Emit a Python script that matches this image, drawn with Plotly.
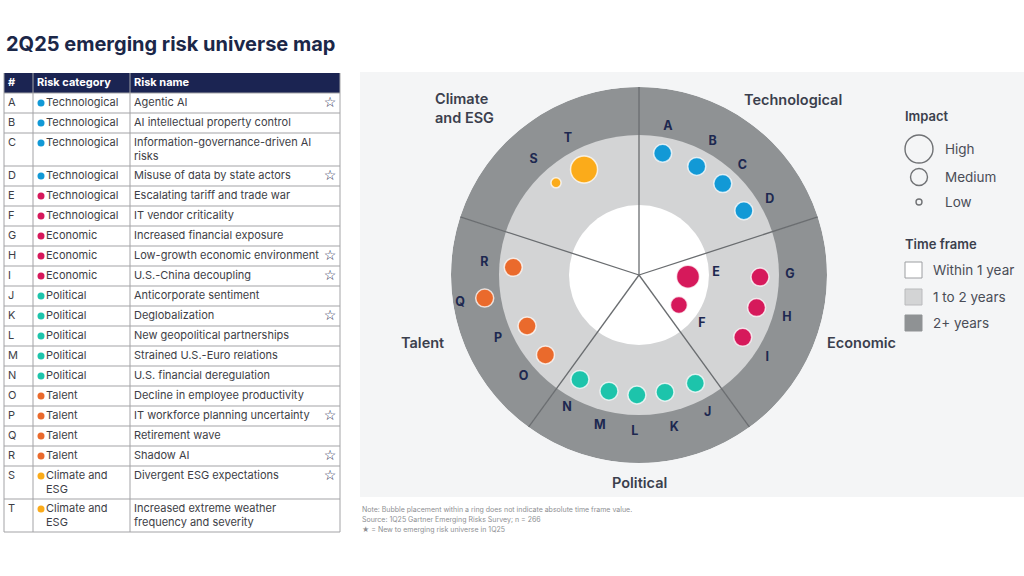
import plotly.graph_objects as go

W, H = 1024, 576

# ---- table data ----
ids = list("ABCDEFGHIJKLMNOPQRST")
risk_category = (["Technological"] * 6 + ["Economic"] * 3 + ["Political"] * 5
                 + ["Talent"] * 4 + ["Climate and<br>ESG"] * 2)
risk_name = [
    "Agentic AI",
    "AI intellectual property control",
    "Information-governance-driven AI<br>risks",
    "Misuse of data by state actors",
    "Escalating tariff and trade war",
    "IT vendor criticality",
    "Increased financial exposure",
    "Low-growth economic environment",
    "U.S.-China decoupling",
    "Anticorporate sentiment",
    "Deglobalization",
    "New geopolitical partnerships",
    "Strained U.S.-Euro relations",
    "U.S. financial deregulation",
    "Decline in employee productivity",
    "IT workforce planning uncertainty",
    "Retirement wave",
    "Shadow AI",
    "Divergent ESG expectations",
    "Increased extreme weather<br>frequency and severity",
]
is_new = [1, 0, 0, 1, 0, 0, 0, 1, 1, 0, 1, 0, 0, 0, 0, 1, 0, 1, 1, 0]
group = ["tech"] * 4 + ["econ"] * 5 + ["pol"] * 5 + ["tal"] * 4 + ["clim"] * 2

group_color = {"tech": "#1299d6", "econ": "#d6195b", "pol": "#1dc4ab",
               "tal": "#ea6a2c", "clim": "#fbab1a"}

# ---- map data (radius in px of a 188px disc, angle in degrees) ----
bubble_r = [124, 123, 124, 123, 49, 50, 121, 122, 121, 122,
            120, 120, 120, 120, 123, 123, 156, 126, 124, 119]
bubble_theta = [79, 62, 47.5, 31.5, -2, -37, -1, -15.5, -31, -62.5,
                -77.5, -91, -104.5, -119.5, -139.5, -155.5, -171.5, 176.5, 132, 117.5]
bubble_size = [18, 18, 18, 18, 23, 17, 18, 18, 18, 18,
               18, 18, 18, 18, 18, 18, 18, 18, 10, 27]
label_r = [151, 152, 150, 151, 77, 80, 151, 154, 153, 154,
           157, 157, 156, 151, 154, 155, 181, 155, 156, 154]
label_theta = [79, 61, 46.5, 30, 1.5, -38, 0, -16, -33, -63.5,
               -77, -91.5, -104.5, -118.5, -138.5, -155.5, -171, 175.5, 132.5, 117.5]

sector_centers = [54, -18, -90, -162, 126]
spoke_angles = [90, 18, -54, -126, 162]
ring_outer = [188, 140, 70]
ring_colors = ["#8f9294", "#d3d4d5", "#ffffff"]

notes = [
    "Note: Bubble placement within a ring does not indicate absolute time frame value.",
    "Source: 1Q25 Gartner Emerging Risks Survey; n = 266",
    "★ = New to emerging risk universe in 1Q25",
]


def px(x):
    return x / W


def py(y):
    return 1 - y / H


FONT = "Inter"

fig = go.Figure()

# ---------------- table (axes in pixel units) ----------------
n_lines = [max(c.count("<br>"), n.count("<br>")) + 1 for c, n in zip(risk_category, risk_name)]
row_h = [20 + 13 * (k - 1) for k in n_lines]
tops = []
y = 93
for h in row_h:
    tops.append(y)
    y += h
table_bottom = y

shapes = []
# map panel background
shapes.append(dict(type="rect", xref="paper", yref="paper", x0=px(360), x1=1.0,
                   y0=py(497), y1=py(72), fillcolor="#f4f5f6", line=dict(width=0), layer="below"))
# header
shapes.append(dict(type="rect", xref="x", yref="y", x0=4, x1=340, y0=73, y1=93,
                   fillcolor="#1b2452", line=dict(width=0), layer="below"))
grid = dict(color="#a3a3a6", width=1)
for t in tops[1:] + [table_bottom]:
    shapes.append(dict(type="line", xref="x", yref="y", x0=4, x1=340, y0=t, y1=t, line=grid))
shapes.append(dict(type="line", xref="x", yref="y", x0=4, x1=340, y0=93, y1=93, line=grid))
for xv in [4, 33, 130, 340]:
    shapes.append(dict(type="line", xref="x", yref="y", x0=xv, x1=xv, y0=73, y1=table_bottom, line=grid))

# header text
fig.add_trace(go.Scatter(
    x=[8, 37, 134], y=[83, 83, 83], mode="text", text=["#", "Risk category", "Risk name"],
    textposition="middle right", cliponaxis=False, hoverinfo="skip", showlegend=False,
    textfont=dict(family=FONT, size=11, color="white", weight="bold")))

cell_color = "#3d3e46"
letter_y = [t + 10 for t in tops]
cat_y = [t + 10 + 7 * c.count("<br>") for t, c in zip(tops, risk_category)]
name_y = [t + 10 + 7 * n.count("<br>") for t, n in zip(tops, risk_name)]

fig.add_trace(go.Scatter(
    x=[8] * len(ids), y=letter_y, mode="text", text=ids, textposition="middle right",
    cliponaxis=False, hoverinfo="skip", showlegend=False,
    textfont=dict(family=FONT, size=11, color=cell_color)))
fig.add_trace(go.Scatter(
    x=[41] * len(ids), y=letter_y, mode="markers", hoverinfo="skip", showlegend=False,
    marker=dict(size=7, color=[group_color[g] for g in group], line=dict(width=0))))
fig.add_trace(go.Scatter(
    x=[46] * len(ids), y=cat_y, mode="text", text=risk_category, textposition="middle right",
    cliponaxis=False, hoverinfo="skip", showlegend=False,
    textfont=dict(family=FONT, size=11, color=cell_color)))
fig.add_trace(go.Scatter(
    x=[134] * len(ids), y=name_y, mode="text", text=risk_name, textposition="middle right",
    cliponaxis=False, hoverinfo="skip", showlegend=False,
    textfont=dict(family=FONT, size=11, color=cell_color)))
fig.add_trace(go.Scatter(
    x=[330] * sum(is_new), y=[yy for yy, f in zip(letter_y, is_new) if f], mode="text",
    text=["☆"] * sum(is_new), textposition="middle center", cliponaxis=False,
    hoverinfo="skip", showlegend=False,
    textfont=dict(family="DejaVu Sans", size=14, color="#1c2550")))

# ---------------- radial map ----------------
for rr, col in zip(ring_outer, ring_colors):
    fig.add_trace(go.Barpolar(
        r=[rr] * 5, theta=sector_centers, width=[72] * 5, subplot="polar",
        marker=dict(color=col, line=dict(width=0)), hoverinfo="skip", showlegend=False))

sp_r, sp_t = [], []
for a in spoke_angles:
    sp_r += [0, 188, None]
    sp_t += [a, a, None]
fig.add_trace(go.Scatterpolar(
    r=sp_r, theta=sp_t, mode="lines", subplot="polar", hoverinfo="skip", showlegend=False,
    line=dict(color="#6a6d70", width=1.3)))

fig.add_trace(go.Scatterpolar(
    r=bubble_r, theta=bubble_theta, mode="markers", subplot="polar", showlegend=False,
    text=[f"{i}: {n.replace('<br>', ' ')}" for i, n in zip(ids, risk_name)], hoverinfo="text",
    marker=dict(size=bubble_size, color=[group_color[g] for g in group], opacity=1,
                line=dict(color="rgba(255,255,255,0.75)", width=1.5))))

fig.add_trace(go.Scatterpolar(
    r=label_r, theta=label_theta, mode="text", text=ids, subplot="polar",
    hoverinfo="skip", showlegend=False,
    textfont=dict(family=FONT, size=12.5, color="#1d2850", weight="bold")))

# ---------------- annotations ----------------
ann = []
ann.append(dict(text="2Q25 emerging risk universe map", x=px(4), y=py(44), xref="paper", yref="paper",
                xanchor="left", yanchor="middle", showarrow=False,
                font=dict(family=FONT, size=20, color="#1b2748", weight="bold")))

cat_labels = [("Climate<br>and ESG", 433, 108), ("Technological", 742, 99), ("Talent", 399, 342),
              ("Economic", 825, 342), ("Political", 610, 482)]
for txt, xx, yy in cat_labels:
    ann.append(dict(text=txt, x=px(xx), y=py(yy), xref="paper", yref="paper", xanchor="left",
                    yanchor="middle", align="left", showarrow=False,
                    font=dict(family=FONT, size=14.5, color="#3b3f4d", weight=600)))

# legend: impact
ann.append(dict(text="Impact", x=px(903), y=py(116), xref="paper", yref="paper", xanchor="left",
                yanchor="middle", showarrow=False, font=dict(family=FONT, size=13, color="#3b3f4d", weight=600)))
impact_items = [("High", 149, 28), ("Medium", 177, 17), ("Low", 202, 6)]
for txt, yy, d in impact_items:
    shapes.append(dict(type="circle", xref="paper", yref="paper", x0=px(919 - d / 2), x1=px(919 + d / 2),
                       y0=py(yy + d / 2), y1=py(yy - d / 2), line=dict(color="#707275", width=1.4)))
    ann.append(dict(text=txt, x=px(943), y=py(yy), xref="paper", yref="paper", xanchor="left",
                    yanchor="middle", showarrow=False, font=dict(family=FONT, size=13.5, color="#4a4d57")))

ann.append(dict(text="Time frame", x=px(903), y=py(244), xref="paper", yref="paper", xanchor="left",
                yanchor="middle", showarrow=False, font=dict(family=FONT, size=13, color="#3b3f4d", weight=600)))
time_items = [("Within 1 year", 270, "#ffffff", "#9c9ea1"), ("1 to 2 years", 297, "#d3d4d5", "#b9babc"),
              ("2+ years", 323, "#8f9294", "#8f9294")]
for txt, yy, fc, lc in time_items:
    shapes.append(dict(type="rect", xref="paper", yref="paper", x0=px(905), x1=px(922),
                       y0=py(yy + 8), y1=py(yy - 8), fillcolor=fc, line=dict(color=lc, width=1)))
    ann.append(dict(text=txt, x=px(931), y=py(yy), xref="paper", yref="paper", xanchor="left",
                    yanchor="middle", showarrow=False, font=dict(family=FONT, size=13.5, color="#4a4d57")))

for k, txt in enumerate(notes):
    ann.append(dict(text=txt, x=px(360), y=py(509 + 10 * k), xref="paper", yref="paper", xanchor="left",
                    yanchor="middle", showarrow=False, font=dict(family=FONT, size=7, color="#8e8f93")))

cx, cy, R = 639, 275, 188
fig.update_layout(
    width=W, height=H, margin=dict(l=0, r=0, t=0, b=0),
    paper_bgcolor="white", plot_bgcolor="rgba(0,0,0,0)",
    xaxis=dict(domain=[0, px(350)], range=[0, 350], visible=False, fixedrange=True),
    yaxis=dict(domain=[py(540), py(65)], range=[540, 65], visible=False, fixedrange=True),
    polar=dict(
        domain=dict(x=[px(cx - R), px(cx + R)], y=[py(cy + R), py(cy - R)]),
        bgcolor="rgba(0,0,0,0)", barmode="overlay", bargap=0,
        radialaxis=dict(range=[0, R], visible=False),
        angularaxis=dict(visible=False, direction="counterclockwise", rotation=0),
    ),
    shapes=shapes, annotations=ann, showlegend=False,
)

# page body has a default 8px margin; drop it so the figure sits at the window origin
fig.write_html("out.html", config={"displayModeBar": False},
               post_script="document.body.style.margin='0px';")
